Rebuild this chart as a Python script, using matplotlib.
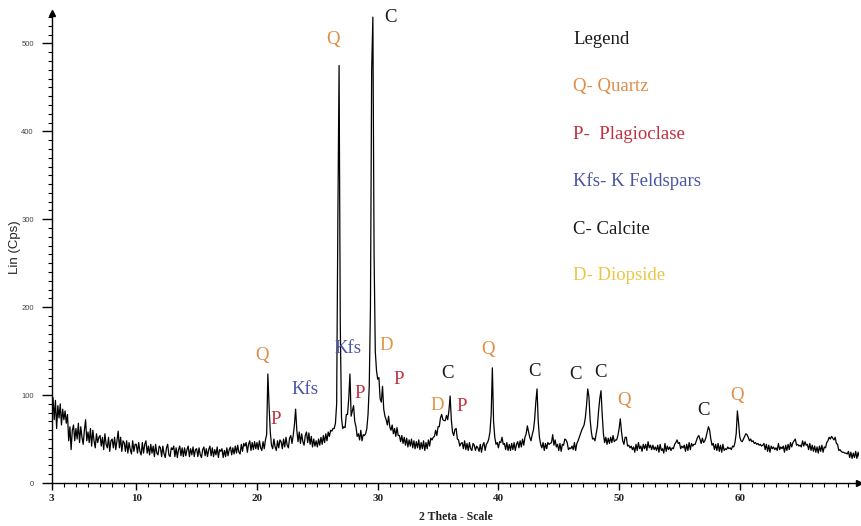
import numpy as np
import matplotlib
matplotlib.use("Agg")
import matplotlib.pyplot as plt

# Scan parameters (degrees 2-theta)
scan_start = 3.0
scan_step = 0.1

# Measured intensity (Lin, counts per second), one row per degree from 3 to 69
intensity = [
    84, 97, 72, 94, 62, 88, 74, 90, 66, 84,      # 3
    72, 82, 68, 78, 48, 64, 38, 60, 66, 48,      # 4
    62, 50, 68, 46, 64, 52, 44, 60, 72, 48,      # 5
    58, 46, 62, 42, 60, 48, 40, 56, 46, 52,      # 6
    54, 42, 52, 38, 56, 44, 40, 52, 36, 48,      # 7
    50, 40, 52, 38, 48, 59, 40, 52, 36, 48,      # 8
    46, 36, 48, 34, 46, 38, 33, 48, 36, 44,      # 9
    44, 34, 46, 36, 32, 46, 34, 44, 48, 34,      # 10
    42, 32, 44, 34, 42, 30, 44, 34, 32, 42,      # 11
    40, 30, 42, 33, 29, 40, 44, 32, 30, 40,      # 12
    38, 42, 30, 40, 29, 38, 42, 31, 40, 30,      # 13
    40, 31, 38, 42, 30, 39, 32, 41, 30, 38,      # 14
    39, 30, 40, 32, 29, 38, 41, 31, 39, 30,      # 15
    38, 42, 31, 40, 30, 38, 32, 41, 29, 38,      # 16
    36, 39, 29, 37, 30, 40, 31, 38, 41, 32,      # 17
    40, 33, 42, 34, 43, 35, 33, 44, 36, 45,      # 18
    42, 46, 35, 44, 48, 37, 46, 38, 47, 39,      # 19
    46, 38, 48, 40, 37, 47, 39, 49, 55, 124,     # 20
    88, 58, 43, 39, 50, 41, 37, 48, 40, 49,      # 21
    47, 39, 50, 41, 52, 43, 40, 51, 54, 45,      # 22
    54, 66, 84, 60, 47, 58, 45, 56, 47, 43,      # 23
    54, 58, 46, 57, 44, 53, 41, 50, 42, 48,      # 24
    41, 50, 43, 52, 44, 54, 46, 56, 48, 58,      # 25
    53, 60, 59, 62, 62, 68, 90, 300, 475, 180,   # 26
    74, 62, 64, 63, 78, 78, 96, 124, 76, 82,     # 27
    88, 70, 64, 53, 56, 49, 60, 48, 55, 54,      # 28
    56, 62, 78, 110, 200, 470, 530, 260, 150, 128,  # 29
    118, 120, 96, 92, 110, 84, 76, 72, 66, 76,   # 30
    64, 60, 66, 56, 62, 53, 63, 54, 54, 47,      # 31
    54, 45, 52, 43, 51, 41, 49, 42, 50, 40,      # 32
    48, 39, 47, 40, 49, 38, 46, 39, 48, 37,      # 33
    46, 39, 49, 42, 51, 49, 52, 53, 60, 54,      # 34
    64, 64, 74, 78, 72, 71, 71, 77, 72, 82,      # 35
    99, 72, 58, 54, 61, 62, 50, 49, 42, 45,      # 36
    46, 39, 48, 38, 45, 37, 46, 39, 37, 45,      # 37
    43, 37, 42, 40, 36, 44, 35, 43, 46, 37,      # 38
    44, 46, 50, 58, 78, 131, 70, 52, 44, 46,     # 39
    40, 47, 46, 52, 44, 45, 38, 46, 37, 44,      # 40
    37, 45, 38, 46, 37, 44, 47, 40, 48, 41,      # 41
    50, 43, 52, 56, 65, 58, 52, 48, 55, 60,      # 42
    72, 92, 107, 70, 52, 44, 40, 46, 37, 45,     # 43
    39, 46, 44, 45, 46, 55, 43, 49, 41, 44,      # 44
    37, 45, 36, 44, 43, 50, 49, 46, 38, 40,      # 45
    39, 42, 38, 46, 37, 45, 48, 52, 56, 60,      # 46
    63, 66, 74, 88, 107, 98, 72, 58, 50, 51,     # 47
    48, 56, 64, 82, 96, 105, 78, 56, 46, 52,     # 48
    44, 51, 45, 52, 46, 54, 47, 49, 49, 54,      # 49
    62, 73, 58, 48, 44, 52, 52, 42, 43, 40,      # 50
    42, 38, 41, 35, 44, 37, 46, 39, 42, 36,      # 51
    44, 39, 44, 37, 47, 40, 43, 38, 43, 38,      # 52
    41, 37, 43, 35, 44, 37, 39, 34, 45, 36,      # 53
    42, 38, 41, 37, 40, 39, 44, 46, 49, 45,      # 54
    46, 39, 42, 40, 43, 36, 44, 37, 46, 38,      # 55
    45, 42, 44, 44, 48, 52, 54, 50, 45, 51,      # 56
    46, 48, 52, 58, 64, 60, 50, 43, 45, 38,      # 57
    44, 37, 45, 36, 43, 35, 44, 37, 39, 38,      # 58
    41, 39, 40, 38, 42, 41, 46, 56, 82, 68,      # 59
    52, 48, 47, 50, 53, 56, 55, 52, 48, 50,      # 60
    47, 48, 45, 46, 44, 45, 43, 44, 42, 43,      # 61
    45, 38, 44, 36, 43, 35, 42, 39, 41, 38,      # 62
    40, 37, 45, 38, 41, 39, 42, 35, 43, 37,      # 63
    44, 38, 46, 41, 46, 48, 50, 43, 44, 42,      # 64
    43, 41, 48, 42, 47, 43, 44, 38, 45, 37,      # 65
    43, 36, 42, 35, 41, 34, 42, 36, 43, 35,      # 66
    41, 40, 46, 48, 52, 50, 53, 51, 49, 52,      # 67
    45, 44, 37, 38, 36, 35, 35, 34, 34, 33,      # 68
    36, 29, 35, 28, 34, 29, 36, 28, 35, 30,      # 69
]

# Phase labels placed above the peaks: text, 2-theta position, Lin position
peak_labels = ["Q", "P", "Kfs", "Kfs", "Q", "C", "D", "P", "P", "D",
               "C", "P", "Q", "C", "C", "C", "Q", "C", "Q"]
peak_label_x = [20.41, 21.58, 23.98, 27.52, 26.32, 31.02, 30.68, 28.48, 31.74, 34.97,
                35.77, 36.96, 39.16, 42.97, 46.40, 48.48, 50.37, 57.03, 59.74]
peak_label_y = [144.5, 71.7, 106.6, 153.2, 504, 529.8, 155.9, 102, 118, 88.7,
                124.8, 86.8, 152, 126.6, 122.9, 125.9, 93.3, 83, 99]

phase_colors = {"Q": "#E08C46", "P": "#C0303F", "Kfs": "#4A55A2",
                "C": "#1A1A1A", "D": "#E39440"}

legend_lines = ["Legend", "Q- Quartz", "P-  Plagioclase", "Kfs- K Feldspars",
                "C- Calcite", "D- Diopside"]
legend_colors = ["#1A1A1A", "#E08C46", "#C0303F", "#4A55A2", "#1A1A1A", "#EAC646"]

xtick_values = [3, 10, 20, 30, 40, 50, 60]
ytick_values = [0, 100, 200, 300, 400, 500]

two_theta = scan_start + scan_step * np.arange(len(intensity))

W, H = 861, 526
fig = plt.figure(figsize=(W / 100, H / 100), dpi=100)
x0, x1 = 51.8, 859.3
y0, y1 = 483.0, 12.7
ax = fig.add_axes([x0 / W, 1 - y0 / H, (x1 - x0) / W, (y0 - y1) / H])

ax.plot(two_theta, intensity, color="black", lw=0.9)

ax.set_xlim(3, 69.9)
ax.set_ylim(0, 535)

for side in ("top", "right"):
    ax.spines[side].set_visible(False)
for side in ("left", "bottom"):
    ax.spines[side].set_linewidth(1.0)
    ax.spines[side].set_color("black")

# Axis arrows
ax.plot([0], [1], marker="^", ms=4, color="black", transform=ax.transAxes, clip_on=False)
ax.plot([1], [0], marker=">", ms=4, color="black", transform=ax.transAxes, clip_on=False)

serif = ["Liberation Serif", "DejaVu Serif"]
sans = ["Liberation Sans", "DejaVu Sans"]

# x ticks: labelled every 10, minor every degree
ax.set_xticks(xtick_values)
ax.set_xticklabels([str(v) for v in xtick_values], fontfamily=serif,
                   fontweight="bold", fontsize=8, color="#222222")
ax.set_xticks(np.arange(4, 70, 1), minor=True)
ax.tick_params(axis="x", which="major", length=5, width=1, pad=3, direction="out")
ax.tick_params(axis="x", which="minor", length=3, width=0.8, direction="out")

ax.set_yticks(ytick_values)
ax.set_yticklabels([str(v) for v in ytick_values], fontfamily=sans,
                   fontsize=5.5, color="#444444")
ax.set_yticks(np.arange(10, 535, 10), minor=True)
ax.tick_params(axis="y", which="major", length=7, width=1, pad=6, direction="out")
ax.tick_params(axis="y", which="minor", length=3, width=0.8, direction="out")

ax.set_xlabel("2 Theta - Scale", fontfamily=serif, fontweight="bold",
              fontsize=8.5, color="#222222", labelpad=6)
fig.text(15 / W, 1 - 247 / H, "Lin (Cps)", rotation=90, ha="center", va="center",
         fontfamily=sans, fontsize=9.5, color="#222222")

for txt, px, py in zip(peak_labels, peak_label_x, peak_label_y):
    ax.text(px, py, txt, ha="center", va="center", fontfamily=serif,
            fontsize=13.5, color=phase_colors[txt], clip_on=False)

legend_y = [40, 86, 134, 181, 229, 276]
for line, col, ly in zip(legend_lines, legend_colors, legend_y):
    fig.text(573 / W, 1 - ly / H, line, ha="left", va="center",
             fontfamily=serif, fontsize=13.5, color=col)

fig.savefig("out.png", dpi=100)
